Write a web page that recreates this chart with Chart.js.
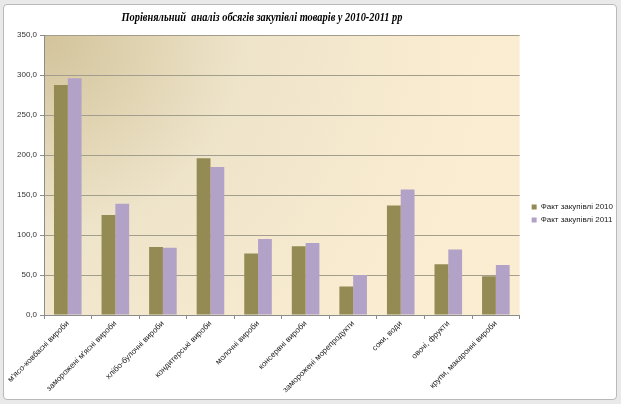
<!DOCTYPE html>
<html>
<head>
<meta charset="utf-8">
<script src="https://cdn.jsdelivr.net/npm/chart.js@4/dist/chart.umd.min.js"></script>
<style>
    html, body { margin: 0; padding: 0; background: #e9e9e9; }
    #frame {
        position: absolute; left: 3px; top: 4px; width: 612px; height: 394px;
        background: #fff; border: 1px solid #b9b9b9; border-radius: 4px;
    }
    #wrap { position: absolute; left: 0; top: 0; width: 621px; height: 404px; }
</style>
</head>
<body>
<div id="frame"></div>
<div id="wrap"><canvas id="purchaseChart" width="621" height="404"></canvas></div>
<script>
const chartTitle = 'Порівняльний  аналіз обсягів закупівлі товарів у 2010-2011 рр';
const categories = [
    "м'ясо-ковбасні вироби",
    "заморожені м'ясні вироби",
    'хлібо-булочні вироби',
    'кондитерські вироби',
    'молочні вироби',
    'консервні вироби',
    'заморожені морепродукти',
    'соки, води',
    'овочі, фрукти',
    'крупи, макаронні вироби'
];
const fact2010 = [287.5, 125, 85, 196, 77, 86, 35.5, 137, 63.5, 48.5];
const fact2011 = [296, 139, 84, 185, 95, 90, 50, 157, 82, 62.5];
const seriesNames = ['Факт закупівлі 2010', 'Факт закупівлі 2011'];

const labelFont = "'Liberation Sans', Arial, sans-serif";

// gradient fill behind the plot, legend nudge, condensed title
const decorPlugin = {
    id: 'decor',
    afterLayout(chart) {
        const lg = chart.legend;
        const dx = chart.chartArea.right + 7 - lg.left;
        lg.left += dx;
        lg.right += dx;
        lg.top -= 6;
        lg.bottom -= 6;
    },
    beforeDraw(chart) {
        const { ctx, chartArea: a } = chart;
        ctx.save();
        const g = ctx.createRadialGradient(a.left, a.top, 0, a.left, a.top, Math.hypot(a.width, a.height) * 0.8);
        g.addColorStop(0, '#d2c39a');
        g.addColorStop(0.45, '#eee4ca');
        g.addColorStop(1, '#fbedd2');
        ctx.fillStyle = g;
        ctx.fillRect(a.left, a.top, a.width, a.height);
        ctx.restore();
    },
    afterDraw(chart) {
        const ctx = chart.ctx;
        ctx.save();
        ctx.font = "italic bold 13px 'Liberation Serif', 'Times New Roman', serif";
        ctx.fillStyle = '#000';
        ctx.textAlign = 'center';
        ctx.textBaseline = 'middle';
        const w = ctx.measureText(chartTitle).width;
        ctx.translate(262, 18);
        ctx.scale(281 / w, 1);
        ctx.fillText(chartTitle, 0, 0);
        ctx.restore();
    }
};

const ctx = document.getElementById('purchaseChart').getContext('2d');
new Chart(ctx, {
    type: 'bar',
    data: {
        labels: categories,
        datasets: [{
            label: seriesNames[0],
            data: fact2010,
            backgroundColor: '#948a54',
            categoryPercentage: 0.58,
            barPercentage: 1.0
        }, {
            label: seriesNames[1],
            data: fact2011,
            backgroundColor: '#b3a2c7',
            categoryPercentage: 0.58,
            barPercentage: 1.0
        }]
    },
    plugins: [decorPlugin],
    options: {
        responsive: false,
        animation: false,
        layout: {
            padding: { top: 35, left: 0, right: 5, bottom: 0 }
        },
        plugins: {
            title: { display: false },
            tooltip: { enabled: false },
            legend: {
                position: 'right',
                labels: {
                    boxWidth: 5,
                    boxHeight: 5,
                    padding: 5,
                    color: '#222',
                    font: { family: labelFont, size: 8 }
                }
            }
        },
        scales: {
            x: {
                afterFit(scale) { scale.height = 89; },
                grid: {
                    drawOnChartArea: false,
                    drawTicks: true,
                    tickLength: 4,
                    color: '#8c8c8c'
                },
                border: { color: '#8c8c8c' },
                ticks: {
                    minRotation: 45,
                    maxRotation: 45,
                    autoSkip: false,
                    padding: 0,
                    color: '#222',
                    font: { family: labelFont, size: 8 }
                }
            },
            y: {
                min: 0,
                max: 350,
                afterFit(scale) { scale.width = 44; },
                grid: {
                    color: '#a39d8e',
                    tickLength: 4,
                    tickColor: '#8c8c8c'
                },
                border: { color: '#8c8c8c' },
                ticks: {
                    stepSize: 50,
                    padding: 3,
                    color: '#333',
                    font: { family: labelFont, size: 8 },
                    callback: v => v.toFixed(1).replace('.', ',')
                }
            }
        }
    }
});
</script>
</body>
</html>
